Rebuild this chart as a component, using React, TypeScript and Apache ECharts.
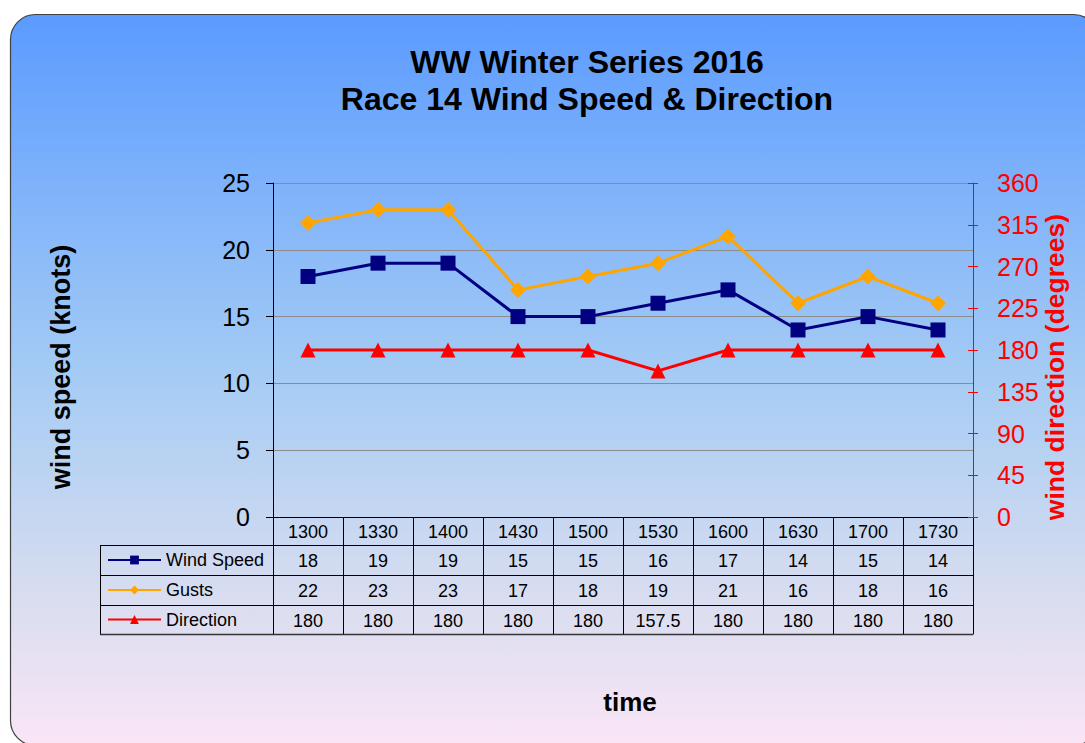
import React, { useEffect, useRef } from "react";
import * as echarts from "echarts";

const categories = ["1300", "1330", "1400", "1430", "1500", "1530", "1600", "1630", "1700", "1730"];
const windSpeed = [18, 19, 19, 15, 15, 16, 17, 14, 15, 14];
const gusts = [22, 23, 23, 17, 18, 19, 21, 16, 18, 16];
const direction = [180, 180, 180, 180, 180, 157.5, 180, 180, 180, 180];
const seriesNames = ["Wind Speed", "Gusts", "Direction"];
const seriesColors = ["#000080", "#FFA500", "#FF0000"];
const seriesSymbols = ["rect", "diamond", "triangle"];
const speedAxis = { min: 0, max: 25, interval: 5 };
const dirAxis = { min: 0, max: 360, interval: 45 };
const titleLines = ["WW Winter Series 2016", "Race 14 Wind Speed & Direction"];

const FONT = "'Liberation Sans', Arial, Helvetica, sans-serif";
const W = 1085;
const H = 743;
const GL = 273;
const GR = 973;
const GT = 183;
const GB = 517;
const TABLE_LEFT = 100;
const ROW_Y = [517, 545, 575, 605, 634];

export default function App() {
  const ref = useRef<HTMLDivElement>(null);
  useEffect(() => {
    document.body.style.margin = "0";
    if (!ref.current) return;
    const chart = echarts.init(ref.current, null, { renderer: "svg" });
    const colW = (GR - GL) / categories.length;
    const rows = [windSpeed, gusts, direction];

    const graphics: any[] = [];
    graphics.push({
      type: "rect",
      z: -10,
      silent: true,
      shape: { x: 10.5, y: 14.5, width: 1088, height: 731, r: 25 },
      style: {
        fill: new echarts.graphic.LinearGradient(0, 0, 0, 1, [
          { offset: 0, color: "#5B9BFF" },
          { offset: 0.5, color: "#A6CCF4" },
          { offset: 0.8, color: "#D9DDF0" },
          { offset: 1, color: "#FAE6F6" },
        ]),
        stroke: "#404040",
        lineWidth: 1.2,
      },
    });
    titleLines.forEach((t, i) => {
      graphics.push({
        type: "text",
        x: 587,
        y: 62 + i * 37,
        style: { text: t, font: `bold 32px ${FONT}`, fill: "#000", align: "center", verticalAlign: "middle" },
      });
    });
    graphics.push({
      type: "text",
      x: 61,
      y: 367,
      rotation: Math.PI / 2,
      style: { text: "wind speed (knots)", font: `bold 27px ${FONT}`, fill: "#000", align: "center", verticalAlign: "middle" },
    });
    graphics.push({
      type: "text",
      x: 1055,
      y: 367,
      rotation: Math.PI / 2,
      style: { text: "wind direction (degrees)", font: `bold 26.5px ${FONT}`, fill: "#FF0000", align: "center", verticalAlign: "middle" },
    });
    graphics.push({
      type: "text",
      x: 630,
      y: 702,
      style: { text: "time", font: `bold 26px ${FONT}`, fill: "#000", align: "center", verticalAlign: "middle" },
    });
    const lineStyle = { stroke: "#000", lineWidth: 1 };
    for (let r = 1; r < ROW_Y.length; r++) {
      graphics.push({
        type: "line",
        shape: { x1: TABLE_LEFT, y1: ROW_Y[r] + 0.5, x2: GR + 0.5, y2: ROW_Y[r] + 0.5 },
        style: r === ROW_Y.length - 1 ? { stroke: "#333", lineWidth: 1.5 } : lineStyle,
      });
    }
    graphics.push({
      type: "line",
      shape: { x1: TABLE_LEFT + 0.5, y1: ROW_Y[1], x2: TABLE_LEFT + 0.5, y2: ROW_Y[4] },
      style: lineStyle,
    });
    for (let c = 0; c <= categories.length; c++) {
      const x = Math.round(GL + c * colW) + 0.5;
      graphics.push({
        type: "line",
        shape: { x1: x, y1: ROW_Y[0], x2: x, y2: ROW_Y[4] },
        style: lineStyle,
      });
    }
    rows.forEach((vals, r) => {
      const cy = (ROW_Y[r + 1] + ROW_Y[r + 2]) / 2 + 1;
      vals.forEach((v, c) => {
        graphics.push({
          type: "text",
          x: GL + (c + 0.5) * colW,
          y: cy,
          style: { text: String(v), font: `18px ${FONT}`, fill: "#000", align: "center", verticalAlign: "middle" },
        });
      });
    });

    const legends = seriesNames.map((name, r) => ({
      data: [name],
      left: 107,
      top: (ROW_Y[r + 1] + ROW_Y[r + 2]) / 2 - 9,
      itemWidth: 53,
      itemHeight: 11,
      itemGap: 0,
      padding: 0,
      selectedMode: false,
      textStyle: { fontSize: 18, fontFamily: FONT, color: "#000", padding: [0, 0, 0, 0] },
    }));

    const option: any = {
      animation: false,
      graphic: graphics,
      legend: legends,
      grid: { left: GL, top: GT, width: GR - GL, height: GB - GT, containLabel: false },
      xAxis: {
        type: "category",
        data: categories,
        boundaryGap: true,
        axisLine: { lineStyle: { color: "#000", width: 1 } },
        axisTick: { show: false },
        axisLabel: { margin: 15, fontSize: 18, fontFamily: FONT, color: "#000", verticalAlign: "middle", interval: 0 },
      },
      yAxis: [
        {
          type: "value",
          position: "left",
          ...speedAxis,
          axisLine: { show: true, lineStyle: { color: "#000", width: 1 } },
          axisTick: { show: true, length: 7, lineStyle: { color: "#000" } },
          axisLabel: { margin: 23, fontSize: 25, fontFamily: FONT, color: "#000" },
          splitLine: { show: true, lineStyle: { color: "#8C8C8C", width: 1 } },
        },
        {
          type: "value",
          position: "right",
          ...dirAxis,
          axisLine: { show: true, lineStyle: { color: "#FF0000", width: 1 } },
          axisTick: { show: true, length: 5, lineStyle: { color: "#FF0000" } },
          axisLabel: { margin: 24, fontSize: 25, fontFamily: FONT, color: "#FF0000" },
          splitLine: { show: false },
        },
        {
          type: "value",
          position: "right",
          ...dirAxis,
          axisLine: { show: false },
          axisTick: { show: true, inside: true, length: 5, lineStyle: { color: "#FF0000" } },
          axisLabel: { show: false },
          splitLine: { show: false },
        },
      ],
      series: [
        {
          name: seriesNames[0],
          type: "line",
          data: windSpeed,
          yAxisIndex: 0,
          symbol: seriesSymbols[0],
          symbolSize: 15,
          color: seriesColors[0],
          lineStyle: { width: 3, color: seriesColors[0] },
          itemStyle: { color: seriesColors[0] },
        },
        {
          name: seriesNames[1],
          type: "line",
          data: gusts,
          yAxisIndex: 0,
          symbol: seriesSymbols[1],
          symbolSize: 16,
          color: seriesColors[1],
          lineStyle: { width: 3, color: seriesColors[1] },
          itemStyle: { color: seriesColors[1] },
        },
        {
          name: seriesNames[2],
          type: "line",
          data: direction,
          yAxisIndex: 1,
          symbol: seriesSymbols[2],
          symbolSize: 15,
          color: seriesColors[2],
          lineStyle: { width: 3, color: seriesColors[2] },
          itemStyle: { color: seriesColors[2] },
        },
      ],
    };
    chart.setOption(option);
    return () => chart.dispose();
  }, []);
  return <div ref={ref} style={{ width: W, height: H }} />;
}
